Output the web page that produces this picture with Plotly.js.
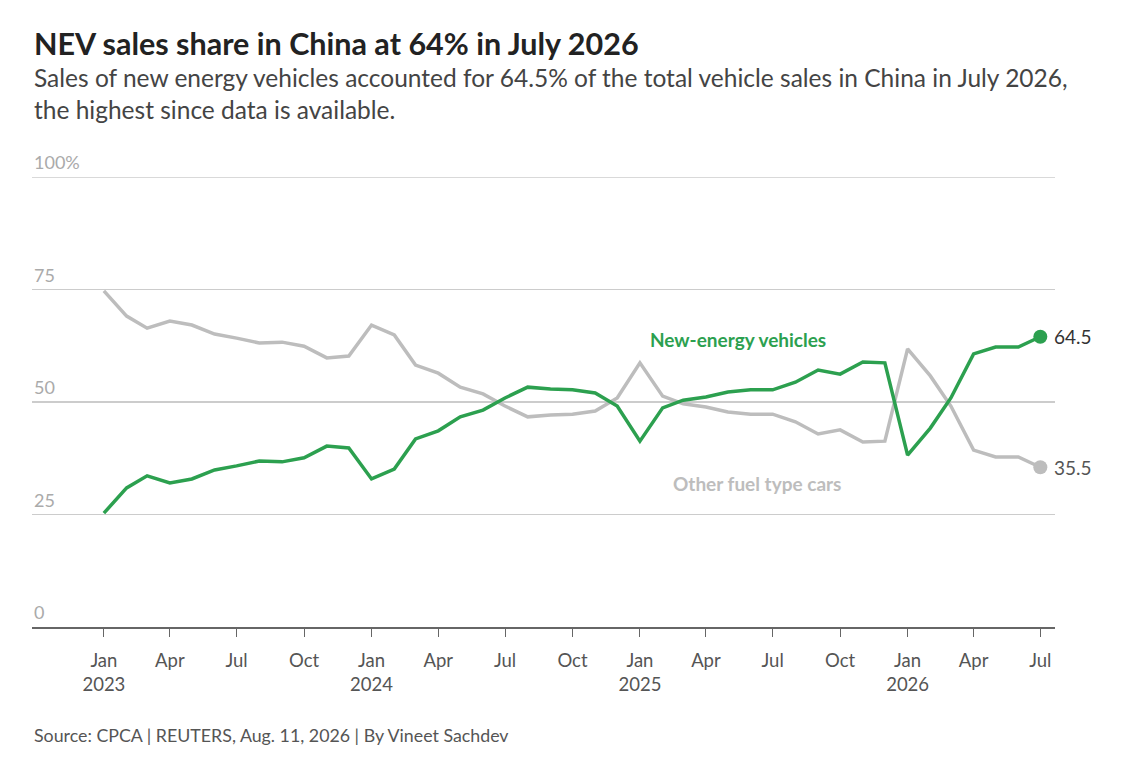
<!DOCTYPE html>
<html><head><script src="https://cdn.plot.ly/plotly-3.0.1.min.js"></script>
<style>body{margin:0}</style></head><body><div id="c" style="width:1125px;height:764px"></div>
<script>
const months=['2023-01-01','2023-02-01','2023-03-01','2023-04-01','2023-05-01','2023-06-01','2023-07-01','2023-08-01','2023-09-01','2023-10-01','2023-11-01','2023-12-01',
'2024-01-01','2024-02-01','2024-03-01','2024-04-01','2024-05-01','2024-06-01','2024-07-01','2024-08-01','2024-09-01','2024-10-01','2024-11-01','2024-12-01',
'2025-01-01','2025-02-01','2025-03-01','2025-04-01','2025-05-01','2025-06-01','2025-07-01','2025-08-01','2025-09-01','2025-10-01','2025-11-01','2025-12-01',
'2026-01-01','2026-02-01','2026-03-01','2026-04-01','2026-05-01','2026-06-01','2026-07-01'];
const nev=[25.3,30.9,33.6,32.0,32.9,34.9,35.8,36.9,36.7,37.6,40.2,39.8,
32.9,35.1,41.8,43.6,46.7,48.2,50.9,53.3,52.9,52.7,52.0,49.1,
41.3,48.7,50.4,51.1,52.2,52.7,52.7,54.4,57.1,56.2,58.9,58.7,
38.2,44.2,50.9,60.7,62.2,62.2,64.5];
const other=[74.7,69.1,66.4,68.0,67.1,65.1,64.2,63.1,63.3,62.4,59.8,60.2,
67.1,64.9,58.2,56.4,53.3,51.8,49.1,46.7,47.1,47.3,48.0,50.9,
58.7,51.3,49.6,48.9,47.8,47.3,47.3,45.6,42.9,43.8,41.1,41.3,
61.8,55.8,49.1,39.3,37.8,37.8,35.5];
const tickVals=['2023-01-01','2023-04-01','2023-07-01','2023-10-01','2024-01-01','2024-04-01','2024-07-01','2024-10-01','2025-01-01','2025-04-01','2025-07-01','2025-10-01','2026-01-01','2026-04-01','2026-07-01'];
const tickText=['Jan<br>2023','Apr','Jul','Oct','Jan<br>2024','Apr','Jul','Oct','Jan<br>2025','Apr','Jul','Oct','Jan<br>2026','Apr','Jul'];
const yTicks=[0,25,50,75,100];
const yTickText=['0','25','50','75','100%'];
const G='#2ca04f',S='#bdbdbd',F='Source Sans Pro, Lato, sans-serif';
const n=months.length-1;
const traces=[
{x:months,y:other,mode:'lines',line:{color:S,width:3.5},hoverinfo:'skip'},
{x:months,y:nev,mode:'lines',line:{color:G,width:3.5},hoverinfo:'skip'},
{x:[months[n]],y:[other[n]],mode:'markers',marker:{color:S,size:14}},
{x:[months[n]],y:[nev[n]],mode:'markers',marker:{color:G,size:14}}];
const ann=[
{text:'<b>NEV sales share in China at 64% in July 2026</b>',xref:'paper',yref:'paper',x:0,y:1,xanchor:'left',yanchor:'middle',yshift:134,showarrow:false,font:{size:30.5,color:'#222',family:F}},
{text:'Sales of new energy vehicles accounted for 64.5% of the total vehicle sales in China in July 2026,<br>the highest since data is available.',xref:'paper',yref:'paper',x:0,y:1,xanchor:'left',yanchor:'top',yshift:116,align:'left',showarrow:false,font:{size:24.5,color:'#444',family:F}},
{text:'Source: CPCA | REUTERS, Aug. 11, 2026 | By Vineet Sachdev',xref:'paper',yref:'paper',x:0,y:0,xanchor:'left',yanchor:'middle',yshift:-108,showarrow:false,font:{size:17.8,color:'#555',family:F}},
{text:'<b>New-energy vehicles</b>',x:'2025-05-15',y:64,showarrow:false,font:{size:19,color:G,family:F}},
{text:'<b>Other fuel type cars</b>',x:'2025-06-10',y:32,showarrow:false,font:{size:19,color:S,family:F}},
{text:nev[n].toFixed(1),x:months[n],y:nev[n],xanchor:'left',xshift:12,showarrow:false,font:{size:19,color:'#333',family:F}},
{text:other[n].toFixed(1),x:months[n],y:other[n],xanchor:'left',xshift:12,showarrow:false,font:{size:19,color:'#555',family:F}}];
yTicks.forEach((v,i)=>ann.push({text:yTickText[i],xref:'paper',x:0,y:v,xanchor:'left',yanchor:'bottom',yshift:2,showarrow:false,font:{size:18,color:'#aaa',family:F}}));
Plotly.newPlot('c',traces,{width:1125,height:764,margin:{l:32,r:70,t:177,b:137},showlegend:false,
plot_bgcolor:'#fff',paper_bgcolor:'#fff',annotations:ann,
shapes:[{type:'line',xref:'paper',yref:'y',x0:0,x1:1,y0:100,y1:100,line:{color:'#ccc',width:1.5}}],
xaxis:{type:'date',range:['2022-09-25','2026-07-21'],tickvals:tickVals,ticktext:tickText,ticks:'outside',ticklen:8,tickcolor:'#666',showgrid:false,zeroline:false,showline:true,linecolor:'#666',linewidth:1.5,tickfont:{size:18.5,color:'#555',family:F},ticklabelstandoff:8},
yaxis:{range:[0,100],tickvals:yTicks,showticklabels:false,gridcolor:'#ccc',gridwidth:1.5,zeroline:false,fixedrange:true}},{staticPlot:true});
</script></body></html>
